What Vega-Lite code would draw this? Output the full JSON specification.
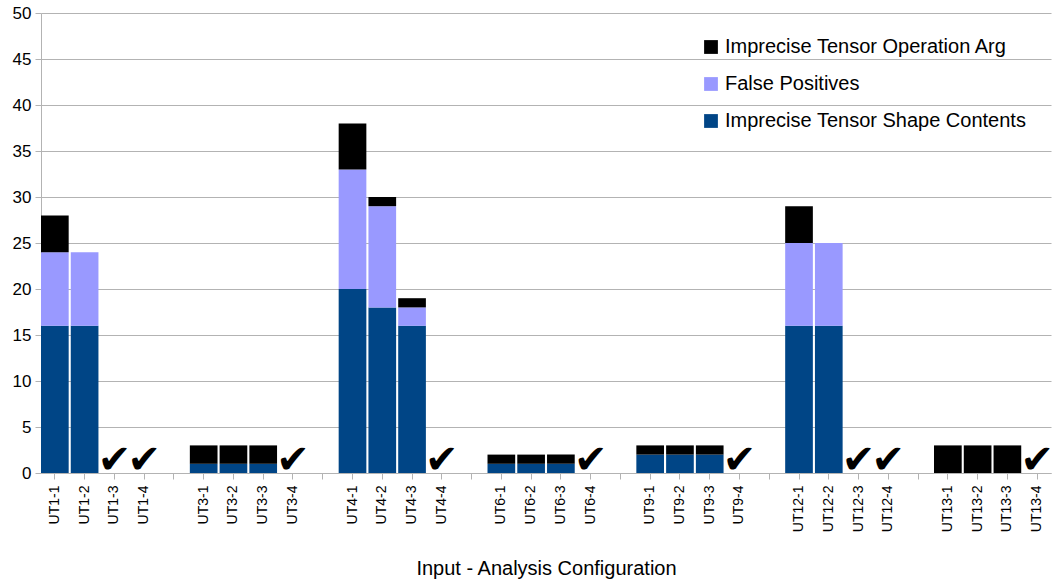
{
  "$schema": "https://vega.github.io/schema/vega-lite/v6.json",
  "width": 1010,
  "height": 460,
  "padding": {"left": 12, "top": 4, "right": 0, "bottom": 0},
  "config": {
    "font": "Liberation Sans",
    "view": {"stroke": null},
    "axis": {"labelColor": "#000000", "titleColor": "#000000", "domainColor": "#b3b3b3", "tickColor": "#b3b3b3", "gridColor": "#b3b3b3"}
  },
  "data": {"values": [
      {"cfg": "UT1-1", "series": "Imprecise Tensor Shape Contents", "count": 16, "so": 0},
      {"cfg": "UT1-1", "series": "False Positives", "count": 8, "so": 1},
      {"cfg": "UT1-1", "series": "Imprecise Tensor Operation Arg", "count": 4, "so": 2},
      {"cfg": "UT1-2", "series": "Imprecise Tensor Shape Contents", "count": 16, "so": 0},
      {"cfg": "UT1-2", "series": "False Positives", "count": 8, "so": 1},
      {"cfg": "UT3-1", "series": "Imprecise Tensor Shape Contents", "count": 1, "so": 0},
      {"cfg": "UT3-1", "series": "Imprecise Tensor Operation Arg", "count": 2, "so": 2},
      {"cfg": "UT3-2", "series": "Imprecise Tensor Shape Contents", "count": 1, "so": 0},
      {"cfg": "UT3-2", "series": "Imprecise Tensor Operation Arg", "count": 2, "so": 2},
      {"cfg": "UT3-3", "series": "Imprecise Tensor Shape Contents", "count": 1, "so": 0},
      {"cfg": "UT3-3", "series": "Imprecise Tensor Operation Arg", "count": 2, "so": 2},
      {"cfg": "UT4-1", "series": "Imprecise Tensor Shape Contents", "count": 20, "so": 0},
      {"cfg": "UT4-1", "series": "False Positives", "count": 13, "so": 1},
      {"cfg": "UT4-1", "series": "Imprecise Tensor Operation Arg", "count": 5, "so": 2},
      {"cfg": "UT4-2", "series": "Imprecise Tensor Shape Contents", "count": 18, "so": 0},
      {"cfg": "UT4-2", "series": "False Positives", "count": 11, "so": 1},
      {"cfg": "UT4-2", "series": "Imprecise Tensor Operation Arg", "count": 1, "so": 2},
      {"cfg": "UT4-3", "series": "Imprecise Tensor Shape Contents", "count": 16, "so": 0},
      {"cfg": "UT4-3", "series": "False Positives", "count": 2, "so": 1},
      {"cfg": "UT4-3", "series": "Imprecise Tensor Operation Arg", "count": 1, "so": 2},
      {"cfg": "UT6-1", "series": "Imprecise Tensor Shape Contents", "count": 1, "so": 0},
      {"cfg": "UT6-1", "series": "Imprecise Tensor Operation Arg", "count": 1, "so": 2},
      {"cfg": "UT6-2", "series": "Imprecise Tensor Shape Contents", "count": 1, "so": 0},
      {"cfg": "UT6-2", "series": "Imprecise Tensor Operation Arg", "count": 1, "so": 2},
      {"cfg": "UT6-3", "series": "Imprecise Tensor Shape Contents", "count": 1, "so": 0},
      {"cfg": "UT6-3", "series": "Imprecise Tensor Operation Arg", "count": 1, "so": 2},
      {"cfg": "UT9-1", "series": "Imprecise Tensor Shape Contents", "count": 2, "so": 0},
      {"cfg": "UT9-1", "series": "Imprecise Tensor Operation Arg", "count": 1, "so": 2},
      {"cfg": "UT9-2", "series": "Imprecise Tensor Shape Contents", "count": 2, "so": 0},
      {"cfg": "UT9-2", "series": "Imprecise Tensor Operation Arg", "count": 1, "so": 2},
      {"cfg": "UT9-3", "series": "Imprecise Tensor Shape Contents", "count": 2, "so": 0},
      {"cfg": "UT9-3", "series": "Imprecise Tensor Operation Arg", "count": 1, "so": 2},
      {"cfg": "UT12-1", "series": "Imprecise Tensor Shape Contents", "count": 16, "so": 0},
      {"cfg": "UT12-1", "series": "False Positives", "count": 9, "so": 1},
      {"cfg": "UT12-1", "series": "Imprecise Tensor Operation Arg", "count": 4, "so": 2},
      {"cfg": "UT12-2", "series": "Imprecise Tensor Shape Contents", "count": 16, "so": 0},
      {"cfg": "UT12-2", "series": "False Positives", "count": 9, "so": 1},
      {"cfg": "UT13-1", "series": "Imprecise Tensor Operation Arg", "count": 3, "so": 2},
      {"cfg": "UT13-2", "series": "Imprecise Tensor Operation Arg", "count": 3, "so": 2},
      {"cfg": "UT13-3", "series": "Imprecise Tensor Operation Arg", "count": 3, "so": 2}
  ]},
  "encoding": {
    "x": {
      "field": "cfg",
      "type": "nominal",
      "scale": {
        "domain": ["UT1-1","UT1-2","UT1-3","UT1-4","gap1","UT3-1","UT3-2","UT3-3","UT3-4","gap2","UT4-1","UT4-2","UT4-3","UT4-4","gap3","UT6-1","UT6-2","UT6-3","UT6-4","gap4","UT9-1","UT9-2","UT9-3","UT9-4","gap5","UT12-1","UT12-2","UT12-3","UT12-4","gap6","UT13-1","UT13-2","UT13-3","UT13-4"],
        "paddingInner": 0.07,
        "paddingOuter": 0
      },
      "axis": {
        "title": "Input - Analysis Configuration",
        "titleFontSize": 20,
        "titleFontWeight": "normal",
        "titlePadding": 27,
        "labelAngle": -90,
        "labelFontSize": 14,
        "labelPadding": 6,
        "labelExpr": "indexof(datum.value, 'gap') == 0 ? '' : datum.value",
        "tickSize": 6
      }
    }
  },
  "layer": [
    {
      "mark": {"type": "bar"},
      "encoding": {
        "y": {
          "field": "count",
          "type": "quantitative",
          "stack": "zero",
          "scale": {"domain": [0, 50]},
          "axis": {
            "title": null,
            "values": [0,5,10,15,20,25,30,35,40,45,50],
            "labelFontSize": 17,
            "tickSize": 6,
            "labelPadding": 4
          }
        },
        "color": {
          "field": "series",
          "type": "nominal",
          "scale": {
            "domain": ["Imprecise Tensor Operation Arg", "False Positives", "Imprecise Tensor Shape Contents"],
            "range": ["#000000", "#9999ff", "#004586"]
          },
          "legend": {
            "title": null,
            "orient": "top-right",
            "offset": 24,
            "labelFontSize": 20,
            "labelLimit": 0,
            "symbolType": "square",
            "symbolSize": 190,
            "rowPadding": 17
          }
        },
        "order": {"field": "so", "type": "quantitative"}
      }
    },
    {
      "data": {"values": [
        {"cfg": "UT1-3", "count": 0, "glyph": "✔"},
        {"cfg": "UT1-4", "count": 0, "glyph": "✔"},
        {"cfg": "UT3-4", "count": 0, "glyph": "✔"},
        {"cfg": "UT4-4", "count": 0, "glyph": "✔"},
        {"cfg": "UT6-4", "count": 0, "glyph": "✔"},
        {"cfg": "UT9-4", "count": 0, "glyph": "✔"},
        {"cfg": "UT12-3", "count": 0, "glyph": "✔"},
        {"cfg": "UT12-4", "count": 0, "glyph": "✔"},
        {"cfg": "UT13-4", "count": 0, "glyph": "✔"}
      ]},
      "mark": {"type": "text", "font": "DejaVu Sans", "fontSize": 40, "baseline": "alphabetic", "align": "center", "color": "#000000"},
      "encoding": {
        "y": {"field": "count", "type": "quantitative"},
        "text": {"field": "glyph"}
      }
    }
  ]
}
